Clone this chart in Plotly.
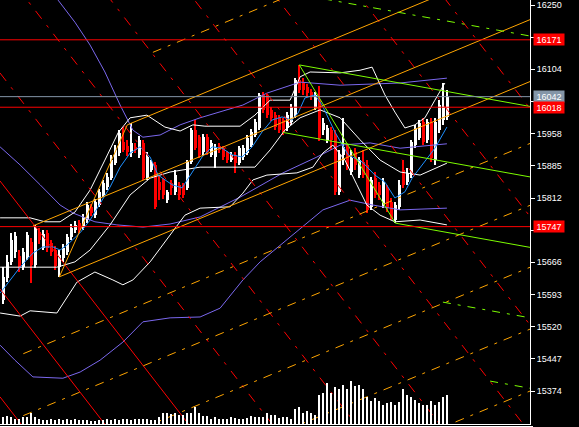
import plotly.graph_objects as go

# ---------------- candles (price values) ----------------
opens = [15581,15630,15667,15689,15680,15655,15678,15712,15660,15735,
         15699,15733,15710,15694,15655,15676,15689,15724,15739,15755,
         15746,15762,15792,15773,15796,15819,15837,15857,15891,15914,
         15939,15930,15914,15928,15910,15937,15857,15876,15887,15848,
         15853,15807,15846,15826,15842,15842,15835,15894,15966,15950,
         15916,15950,15910,15905,15930,15925,15914,15898,15910,15891,
         15905,15914,15932,15955,15971,16046,16041,16012,16000,15994,
         15989,15971,15984,16000,16080,16075,16064,16053,16016,16034,
         15966,15944,15966,15955,15826,15910,15928,15871,15916,15864,
         15894,15887,15792,15857,15842,15796,15835,15803,15762,15792,
         15876,15848,15864,15932,15948,15984,15944,15984,15898,15966,15989,15996]
highs = [15655,15683,15733,15735,15694,15699,15735,15721,15751,15744,
         15739,15739,15717,15703,15694,15708,15730,15753,15760,15762,
         15776,15803,15798,15810,15832,15853,15869,15910,15932,15966,
         15973,15944,15982,15937,15953,15944,15916,15898,15894,15862,
         15857,15830,15853,15876,15848,15846,15898,15971,15989,15955,
         15957,15957,15944,15935,15937,15930,15919,15916,15916,15930,
         15932,15955,15969,15991,16050,16053,16048,16019,16007,16000,
         15994,16007,16025,16084,16114,16084,16071,16059,16053,16066,
         15994,15978,15973,15966,15921,15994,15935,15921,15925,15905,
         15921,15898,15860,15871,15848,15857,15842,15812,15803,15853,
         15898,15880,15944,15978,15989,15994,15991,15994,15994,16034,16073,16057]
lows = [15571,15621,15660,15676,15644,15649,15671,15619,15653,15708,
        15694,15689,15680,15649,15633,15667,15683,15717,15733,15733,
        15739,15755,15771,15767,15792,15814,15830,15853,15887,15907,
        15916,15907,15905,15914,15903,15853,15853,15871,15787,15807,
        15810,15801,15819,15819,15807,15812,15830,15889,15921,15903,
        15910,15910,15905,15880,15914,15898,15891,15894,15869,15887,
        15898,15910,15928,15950,15966,16005,15994,15987,15966,15960,
        15955,15964,15978,15994,16050,16046,16041,16034,16012,15941,
        15955,15937,15921,15819,15819,15887,15876,15864,15876,15857,
        15857,15778,15785,15812,15807,15789,15780,15762,15755,15785,
        15835,15842,15857,15925,15944,15932,15937,15894,15887,15960,15978,15989]
closes = [15633,15667,15717,15726,15653,15689,15728,15660,15744,15717,
          15730,15699,15689,15658,15683,15699,15724,15744,15751,15739,
          15769,15796,15778,15803,15826,15846,15860,15898,15921,15960,
          15921,15916,15937,15921,15944,15857,15905,15891,15792,15830,
          15819,15826,15835,15864,15819,15819,15894,15966,15925,15910,
          15950,15916,15937,15928,15921,15905,15898,15910,15891,15925,
          15925,15948,15962,15984,16046,16012,16000,15994,15973,15966,
          15962,16000,16019,16080,16057,16057,16050,16041,16046,15948,
          15982,15971,15944,15826,15910,15928,15882,15903,15887,15898,
          15864,15785,15853,15819,15819,15848,15789,15767,15796,15842,
          15842,15869,15939,15971,15982,15939,15984,15903,15984,16023,16019,16042]
volumes = [66,83,73,50,50,66,66,113,73,46,
           40,40,46,40,46,40,46,40,46,40,
           40,40,33,33,40,40,46,40,53,40,
           53,53,40,53,46,46,46,40,40,73,
           113,113,100,113,86,93,106,113,166,113,
           83,83,53,66,46,53,46,66,60,46,
           46,60,83,66,73,66,106,93,93,60,
           66,73,46,146,173,106,126,113,93,293,
           306,406,313,366,350,393,346,433,383,393,
           350,266,226,256,226,193,206,216,193,216,
           350,293,273,243,213,193,193,233,193,223,273,293]

# ---------------- indicator curves (bar, price) ----------------
bb_up_x = [-0.8,6.7,10.4,14.2,17.9,21.7,25.4,28.7,31.7,35.9,40.4,44.2,47.4,50.4,59.2,62.9,66.7,71.7,74.2,76.7,84.2,89.2,92.2,95.4,97.9,100.4,102.9,105.4,107.9,110.4]
bb_up_y = [15767,15767,15758,15758,15780,15830,15898,15960,15994,16000,15973,15964,15978,15975,15975,16000,16034,16034,16087,16098,16096,16102,16109,16046,16007,15971,15978,15994,16034,16073]
bb_mid_x = [-0.8,13.4,17.9,21.7,26.7,31.7,36.7,41.7,49.2,62.9,66.7,70.4,74.2,79.2,84.2,89.2,94.2,99.2,104.2,110.9]
bb_mid_y = [15655,15655,15667,15694,15751,15819,15857,15871,15882,15882,15921,15966,15994,16012,15994,15944,15898,15871,15864,15891]
bb_low_x = [-0.8,4.2,6.7,13.4,18.4,22.9,27.4,29.9,32.4,36.7,41.7,45.4,49.2,56.7,59.9,62.4,65.9,73.4,77.4,79.9,82.4,85.4,88.4,90.9,94.2,97.9,104.2,110.9]
bb_low_y = [15551,15544,15556,15551,15621,15644,15626,15615,15626,15667,15728,15773,15789,15792,15823,15853,15864,15869,15882,15914,15932,15898,15842,15796,15773,15758,15762,15751]
ma_x = [-0.8,1.7,4.2,7.4,9.9,12.4,14.2,15.9,19.2,21.7,24.2,26.7,29.2,31.7,34.2,36.7,38.7,42.2,44.7,47.2,49.7,52.2,54.7,57.2,59.7,62.2,64.7,67.2,69.7,72.2,73.7,75.4,77.9,79.7,82.9,86.2,89.7,92.9,95.4,97.9,100.4,102.2,105.4,107.9,110.9]
ma_y = [15596,15626,15655,15687,15701,15701,15694,15705,15733,15762,15801,15837,15882,15914,15928,15905,15864,15842,15835,15869,15905,15928,15925,15910,15905,15928,15962,15989,15996,15989,16005,16039,16046,16023,15962,15910,15894,15864,15848,15812,15826,15857,15894,15925,15973]
slow_up_x = [12.0,13.7,17.9,21.7,25.4,29.2,32.4,34.9,39.2,44.2,49.2,59.9,65.9,74.2,84.2,99.2,110.9]
slow_up_y = [16290,16261,16211,16159,16098,16023,15966,15950,15955,15978,15994,16023,16050,16075,16068,16073,16084]
slow_mid_x = [-0.8,4.2,9.2,14.2,17.4,22.9,28.4,34.9,41.7,49.2,59.2,69.9,78.4,84.2,91.7,99.2,110.9]
slow_mid_y = [15928,15887,15842,15796,15778,15758,15751,15746,15753,15769,15814,15869,15905,15932,15937,15925,15935]
slow_low_x = [-0.8,2.9,7.4,14.9,19.2,24.2,29.9,34.9,41.7,49.2,54.2,59.9,64.2,69.9,74.2,79.9,86.7,92.4,99.2,110.9]
slow_low_y = [15478,15444,15406,15403,15417,15444,15485,15531,15540,15542,15562,15626,15667,15710,15744,15785,15807,15796,15785,15789]

# ---------------- drawn objects (anchors in bar / price) ----------------
red_anchor_prices = [15351,15596,15841,16086,16331,16576,16821,17066,17312,17557,17802]  # price at bar 0
red_slope = -11.71          # price per bar
red_solid_count = 3
chan_low_bar, chan_low_price = 14, 15633
chan_high_bar, chan_high_price = 31, 15978
chan_slope = 3.767
chan_mid_start = 7.4
chan_low_ext_start = 5
chan_up_ext_start = 37.4
green_high_bar, green_high_price = 74, 16114
green_low_bar, green_low_price = 98, 15755
green_slope = -1.634
green_mid_start = 69.9
green_ext_starts = [109.9, 121.7]
levels_red = [16171, 16018, 15747]
last_price = 16042
tick_vals = [16250,16177,16104,16031,15958,15885,15812,15739,15666,15593,15520,15447,15374]
hidden_ticks = [16177, 16031, 15739]   # covered by the price labels

N = len(closes)
bars = list(range(N))
X0, X1 = -0.825, 131.675
Y0, Y1 = 15299.1, 16261.35

fig = go.Figure()

def line(xs, ys, color, dash='solid', width=1):
    fig.add_trace(go.Scatter(x=xs, y=ys, mode='lines', hoverinfo='skip',
                             line=dict(color=color, width=width, dash=dash)))

def ray(x0, p0, slope, color, dash='solid'):
    line([x0, X1], [p0, p0 + slope * (X1 - x0)], color, dash)

# volume
fig.add_trace(go.Bar(x=bars, y=volumes, width=0.25, yaxis='y2',
                     marker=dict(color='white', line=dict(width=0))))

# candles
cols = ['white' if c >= o else '#ff0000' for o, c in zip(opens, closes)]
fig.add_trace(go.Bar(x=bars, y=[h - l for h, l in zip(highs, lows)], base=lows, width=0.25,
                     marker=dict(color=cols, line=dict(width=0))))
fig.add_trace(go.Bar(x=bars, y=[max(abs(c - o), 1.5) for o, c in zip(opens, closes)],
                     base=[min(o, c) for o, c in zip(opens, closes)], width=0.75,
                     marker=dict(color=cols, line=dict(width=0))))

# indicators
line(slow_up_x, slow_up_y, '#7b68ee')
line(slow_mid_x, slow_mid_y, '#7b68ee')
line(slow_low_x, slow_low_y, '#7b68ee')
line(bb_up_x, bb_up_y, 'white')
line(bb_mid_x, bb_mid_y, 'white')
line(bb_low_x, bb_low_y, 'white')
line(ma_x, ma_y, '#1e90ff')

# red parallel lines
for k, p0 in enumerate(red_anchor_prices):
    dash = 'solid' if k < red_solid_count else '10px,8px,3px,8px'
    line([X0, X1], [p0 + red_slope * X0, p0 + red_slope * X1], '#ff0000', dash)

# orange channel
def oc(b):
    return chan_low_price + chan_slope * (b - chan_low_bar)
def oa(b):
    return chan_high_price + chan_slope * (b - chan_high_bar)
chan_w = oa(chan_high_bar) - oc(chan_high_bar)
ray(chan_low_bar, chan_low_price, chan_slope, '#ffa500')
ray(chan_high_bar, chan_high_price, chan_slope, '#ffa500')
ray(chan_mid_start, (oa(chan_mid_start) + oc(chan_mid_start)) / 2, chan_slope, '#ffa500')
line([chan_low_bar, chan_high_bar], [chan_low_price, chan_high_price], '#ffa500')
for k in range(1, 7):
    ray(chan_low_ext_start, oc(chan_low_ext_start) - k * chan_w / 2, chan_slope, '#ffa500', '9px,7px,3px,7px')
ray(chan_up_ext_start, oa(chan_up_ext_start) + chan_w / 2, chan_slope, '#ffa500', '9px,7px,3px,7px')

# green channel
def g1(b):
    return green_high_price + green_slope * (b - green_high_bar)
def g2(b):
    return green_low_price + green_slope * (b - green_low_bar)
gw = g1(green_low_bar) - green_low_price
ray(green_high_bar, green_high_price, green_slope, '#7cfc00')
ray(green_low_bar, green_low_price, green_slope, '#7cfc00')
ray(green_mid_start, g2(green_mid_start) + gw / 2, green_slope, '#7cfc00')
line([green_high_bar, green_low_bar], [green_high_price, green_low_price], '#7cfc00')
ray(green_high_bar, green_high_price + gw / 2, green_slope, '#7cfc00', '8px,7px,3px,7px')
for k, s in enumerate(green_ext_starts, start=1):
    ray(s, g2(s) - k * gw / 2, green_slope, '#7cfc00', '8px,7px,3px,7px')

# horizontal levels
line([X0, X1], [last_price, last_price], '#8496a8')
for p in levels_red:
    line([X0, X1], [p, p], '#ff0000')

# price labels
labels = [(16171, '#ff0000'), (last_price, '#8496a8'), (16018, '#ff0000'), (15747, '#ff0000')]
for p, bg in labels:
    fig.add_annotation(xref='paper', yref='y', x=1 + 2.5 / 530, y=p, xanchor='left', yanchor='middle',
                       text=str(p), showarrow=False, bgcolor=bg, width=30, height=11, borderpad=0,
                       font=dict(color='white', size=9, family='Liberation Sans'))

fig.add_shape(type='line', xref='paper', yref='paper', x0=0, x1=1 + 3 / 530, y0=-2.5 / 424, y1=-2.5 / 424,
              line=dict(color='white', width=1))

fig.update_layout(
    width=579, height=427, margin=dict(l=0, r=49, t=0, b=3, pad=0),
    paper_bgcolor='black', plot_bgcolor='black', barmode='overlay', bargap=0,
    showlegend=False,
    xaxis=dict(range=[X0, X1], showgrid=False, zeroline=False, showticklabels=False, ticks='',
               showline=True, linecolor='white', linewidth=1, fixedrange=True),
    yaxis=dict(range=[Y0, Y1], side='right', showgrid=False, zeroline=False, showline=True,
               linecolor='white', linewidth=1, ticks='outside', ticklen=4, tickcolor='white',
               tickvals=tick_vals,
               ticktext=['' if v in hidden_ticks else str(v) for v in tick_vals],
               tickfont=dict(color='white', size=9, family='Liberation Sans')),
    yaxis2=dict(range=[0, 4240], overlaying='y', visible=False, fixedrange=True),
)

fig.write_html('out.html', config={'displayModeBar': False},
               post_script="document.body.style.margin='0px';document.body.style.background='black';")
